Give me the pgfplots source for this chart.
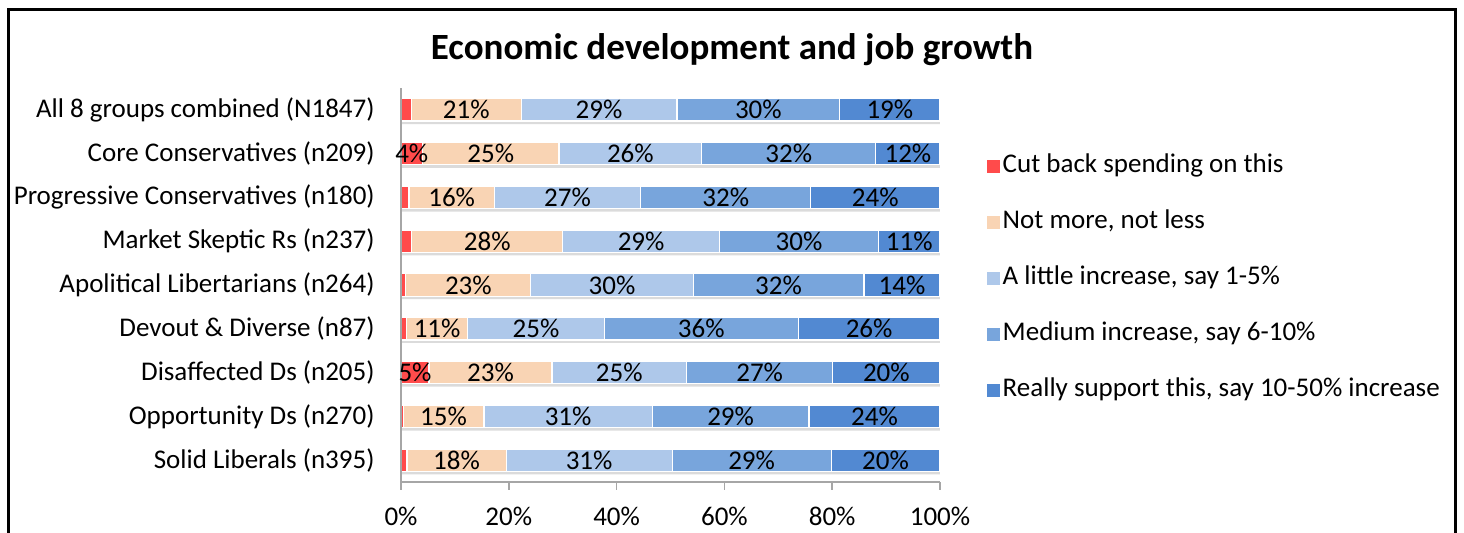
\documentclass[border=0pt]{standalone}
\usepackage{fontspec}
\setmainfont{Carlito}
\usepackage{pgfplots}
\usepackage{pgfplotstable}
\pgfplotsset{compat=1.18}

\definecolor{cRed}{HTML}{FF4B4B}
\definecolor{cPeach}{HTML}{F9D4B4}
\definecolor{cLight}{HTML}{AEC8EA}
\definecolor{cMed}{HTML}{78A5DC}
\definecolor{cDark}{HTML}{5289D2}
\definecolor{axgray}{HTML}{A6A6A6}

% row 8 = All 8 groups ... row 0 = Solid Liberals
% a = cut back, b = not more/not less, c = little, d = medium, e = really support
\pgfplotstableread{
row a b c d e lb lc ld le
8 1.9 20.4 28.9 30.2 18.6 21 29 30 19
7 4.0 25.3 26.5 32.3 11.9 25 26 32 12
6 1.5 15.8 27.2 31.5 24.0 16 27 32 24
5 2.0 28.0 29.1 29.5 11.4 28 29 30 11
4 0.9 23.2 30.1 31.7 14.1 23 30 32 14
3 1.0 11.4 25.3 36.0 26.3 11 25 36 26
2 5.2 22.8 25.0 27.1 19.9 23 25 27 20
1 0.4 15.0 31.2 29.1 24.3 15 31 29 24
0 1.1 18.4 30.8 29.5 20.2 18 31 29 20
}\data

% only the two red segments that carry a label
\pgfplotstableread{
row a la
7 4.0 4
2 5.2 5
}\redlab

\newcommand{\lblfont}{\fontsize{13.5}{16}\selectfont}

\begin{document}
\begin{tikzpicture}[font=\lblfont]
\useasboundingbox (0,0) rectangle (732pt,266.5pt);
% frame of the chart area
\draw[line width=1.5pt] (4pt,-5pt) -- (4pt,261.5pt) -- (727.5pt,261.5pt) -- (727.5pt,-5pt);
\node[font=\fontsize{18.5}{22}\selectfont\bfseries] at (366pt,241.5pt) {Economic development and job growth};

\begin{axis}[
  at={(200.5pt,25.5pt)}, anchor=south west,
  scale only axis,
  width=269.5pt, height=197pt,
  xmin=0, xmax=100, ymin=-0.5, ymax=8.5,
  enlargelimits=false,
  axis x line*=bottom, axis y line*=left,
  axis line style={axgray, line width=0.8pt},
  axis on top,
  tick align=outside,
  major tick length=4pt,
  xtick={0,20,...,100},
  xtick style={axgray, line width=0.8pt},
  xticklabel={\pgfmathprintnumber{\tick}\%},
  /pgf/number format/assume math mode=true,
  xticklabel style={inner sep=0pt, yshift=-8.25pt, font=\lblfont},
  ytick={0,...,8},
  ytick style={draw=none},
  yticklabels={Solid Liberals (n395), Opportunity Ds (n270), Disaffected Ds (n205),
    Devout \& Diverse (n87), Apolitical Libertarians (n264), Market Skeptic Rs (n237),
    Progressive Conservatives (n180), Core Conservatives (n209), All 8 groups combined (N1847)},
  yticklabel style={inner sep=0pt, xshift=-9pt, font=\lblfont},
  bar width=11.2pt,
  reverse legend,
  legend style={at={(1.0745,0.517)}, anchor=west, draw=none, fill=none,
    font=\lblfont, row sep=16.5pt, column sep=1.5pt,
    nodes={inner sep=0pt, text height=9pt, text depth=2.5pt}},
  legend cell align=left,
  legend image code/.code={\fill[#1, draw=none] (0pt,-3.3pt) rectangle (6.6pt,3.3pt);},
]

% soft shadow under each bar
\addplot[xbar, bar shift=-1.5pt, fill=black!14, draw=none, forget plot]
  table[x expr=\thisrow{a}+\thisrow{b}+\thisrow{c}+\thisrow{d}+\thisrow{e}+0.3, y=row] {\data};

% segments drawn as overlapping bars, longest first
\addplot[xbar, bar shift=0pt, fill=cDark, draw=white, line width=0.6pt]
  table[x expr=\thisrow{a}+\thisrow{b}+\thisrow{c}+\thisrow{d}+\thisrow{e}, y=row] {\data};
\addlegendentry{Really support this, say 10-50\% increase}
\addplot[xbar, bar shift=0pt, fill=cMed, draw=white, line width=0.6pt]
  table[x expr=\thisrow{a}+\thisrow{b}+\thisrow{c}+\thisrow{d}, y=row] {\data};
\addlegendentry{Medium increase, say 6-10\%}
\addplot[xbar, bar shift=0pt, fill=cLight, draw=white, line width=0.6pt]
  table[x expr=\thisrow{a}+\thisrow{b}+\thisrow{c}, y=row] {\data};
\addlegendentry{A little increase, say 1-5\%}
\addplot[xbar, bar shift=0pt, fill=cPeach, draw=white, line width=0.6pt]
  table[x expr=\thisrow{a}+\thisrow{b}, y=row] {\data};
\addlegendentry{Not more, not less}
\addplot[xbar, bar shift=0pt, fill=cRed, draw=white, line width=0.6pt]
  table[x=a, y=row] {\data};
\addlegendentry{Cut back spending on this}

% value labels in the middle of each segment
\addplot[draw=none, forget plot, point meta=explicit symbolic,
  nodes near coords={\pgfplotspointmeta\%}, nodes near coords style={anchor=center, font=\lblfont}]
  table[x expr=\thisrow{a}+\thisrow{b}/2, y=row, meta=lb] {\data};
\addplot[draw=none, forget plot, point meta=explicit symbolic,
  nodes near coords={\pgfplotspointmeta\%}, nodes near coords style={anchor=center, font=\lblfont}]
  table[x expr=\thisrow{a}+\thisrow{b}+\thisrow{c}/2, y=row, meta=lc] {\data};
\addplot[draw=none, forget plot, point meta=explicit symbolic,
  nodes near coords={\pgfplotspointmeta\%}, nodes near coords style={anchor=center, font=\lblfont}]
  table[x expr=\thisrow{a}+\thisrow{b}+\thisrow{c}+\thisrow{d}/2, y=row, meta=ld] {\data};
\addplot[draw=none, forget plot, point meta=explicit symbolic,
  nodes near coords={\pgfplotspointmeta\%}, nodes near coords style={anchor=center, font=\lblfont}]
  table[x expr=\thisrow{a}+\thisrow{b}+\thisrow{c}+\thisrow{d}+\thisrow{e}/2, y=row, meta=le] {\data};
\addplot[draw=none, forget plot, point meta=explicit symbolic,
  nodes near coords={\pgfplotspointmeta\%}, nodes near coords style={anchor=center, font=\lblfont}]
  table[x expr=\thisrow{a}/2, y=row, meta=la] {\redlab};

\end{axis}
\end{tikzpicture}
\end{document}
